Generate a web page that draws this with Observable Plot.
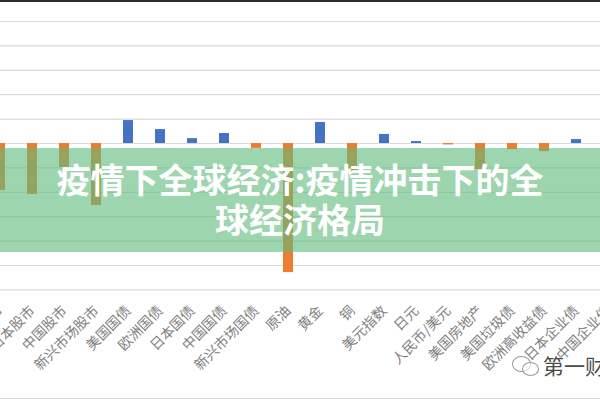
<!DOCTYPE html>
<html>
<head>
<meta charset="utf-8">
<script src="https://cdn.jsdelivr.net/npm/d3@7"></script>
<script src="https://cdn.jsdelivr.net/npm/@observablehq/plot@0.6"></script>
<style>
  html, body { margin: 0; padding: 0; background: #fff; }
  #wrap { position: relative; width: 600px; height: 400px; overflow: hidden; font-family: "Noto Sans CJK SC", sans-serif; }
  #topline { position: absolute; left: 0; top: 0; width: 600px; height: 2px; background: #2b2b2b; }
  #botline { position: absolute; left: 0; top: 398px; width: 600px; height: 1px; background: #d9d9d9; }
  #banner { position: absolute; left: 0; top: 148px; width: 600px; height: 104px;
    background: rgba(97, 187, 124, 0.62); color: #fff; font-weight: 700; font-size: 34px;
    line-height: 40px; text-align: center; padding-top: 11px; box-sizing: border-box; letter-spacing: 0px; }
  #wm { position: absolute; left: 543px; top: 350px; font-size: 21px; color: #4a4a4a; white-space: nowrap;
    text-shadow: 0 0 2px #fff, 0 0 2px #fff; }
  .bub { position: absolute; border: 1.3px solid #9a9a9a; border-radius: 50%; background: rgba(255,255,255,0.6); }
</style>
</head>
<body>
<div id="wrap">
  <div id="chart"></div>
  <div id="topline"></div>
  <div id="botline"></div>
  <div id="banner">疫情下全球经济:疫情冲击下的全<br>球经济格局</div>
  <div class="bub" style="left:512px;top:356px;width:17px;height:14px;"></div>
  <div class="bub" style="left:522px;top:362px;width:15px;height:12px;"></div>
  <div id="wm">第一财经</div>
</div>
<script>
const categories = ["欧洲股市", "日本股市", "中国股市", "新兴市场股市", "美国国债", "欧洲国债", "日本国债", "中国国债", "新兴市场国债", "原油", "黄金", "铜", "美元指数", "日元", "人民币/美元", "美国房地产", "美国垃圾债", "欧洲高收益债", "日本企业债", "中国企业债"];
const values = [-19.3, -20.9, -9.8, -25.4, 9.4, 5.7, 2.0, 4.1, -2.0, -52.9, 8.6, -12.1, 3.7, 0.8, -0.6, -10.7, -2.5, -3.3, 1.6, null];
const gridTicks = [-60, -50, -40, -30, -20, -10, 0, 10, 20, 30, 40, 50];

const data = categories.map((c, i) => ({cat: c, v: values[i]})).filter(d => d.v != null);

const chart = Plot.plot({
  width: 600,
  height: 400,
  marginLeft: 0,
  marginRight: 0,
  marginTop: 0,
  marginBottom: 100,
  style: {fontFamily: "'Noto Sans CJK SC', sans-serif", background: "transparent"},
  x: {domain: categories, range: [-16.65, 625.15], paddingInner: 0.7, paddingOuter: 0.35, axis: null},
  y: {domain: [-60, 60], range: [289.4, -3.4], axis: null},
  color: {type: "identity"},
  marks: [
    Plot.ruleY(gridTicks, {stroke: "#d9d9d9", strokeWidth: 1.2}),
    Plot.barY(data, {x: "cat", y: "v", fill: d => d.v >= 0 ? "#4472C4" : "#ED7D31"}),
    Plot.axisX({anchor: "bottom", tickRotate: -45, tickSize: 0, tickPadding: 8, fontSize: 14, fill: "#808080", label: null})
  ]
});
document.getElementById("chart").appendChild(chart);
</script>
</body>
</html>
